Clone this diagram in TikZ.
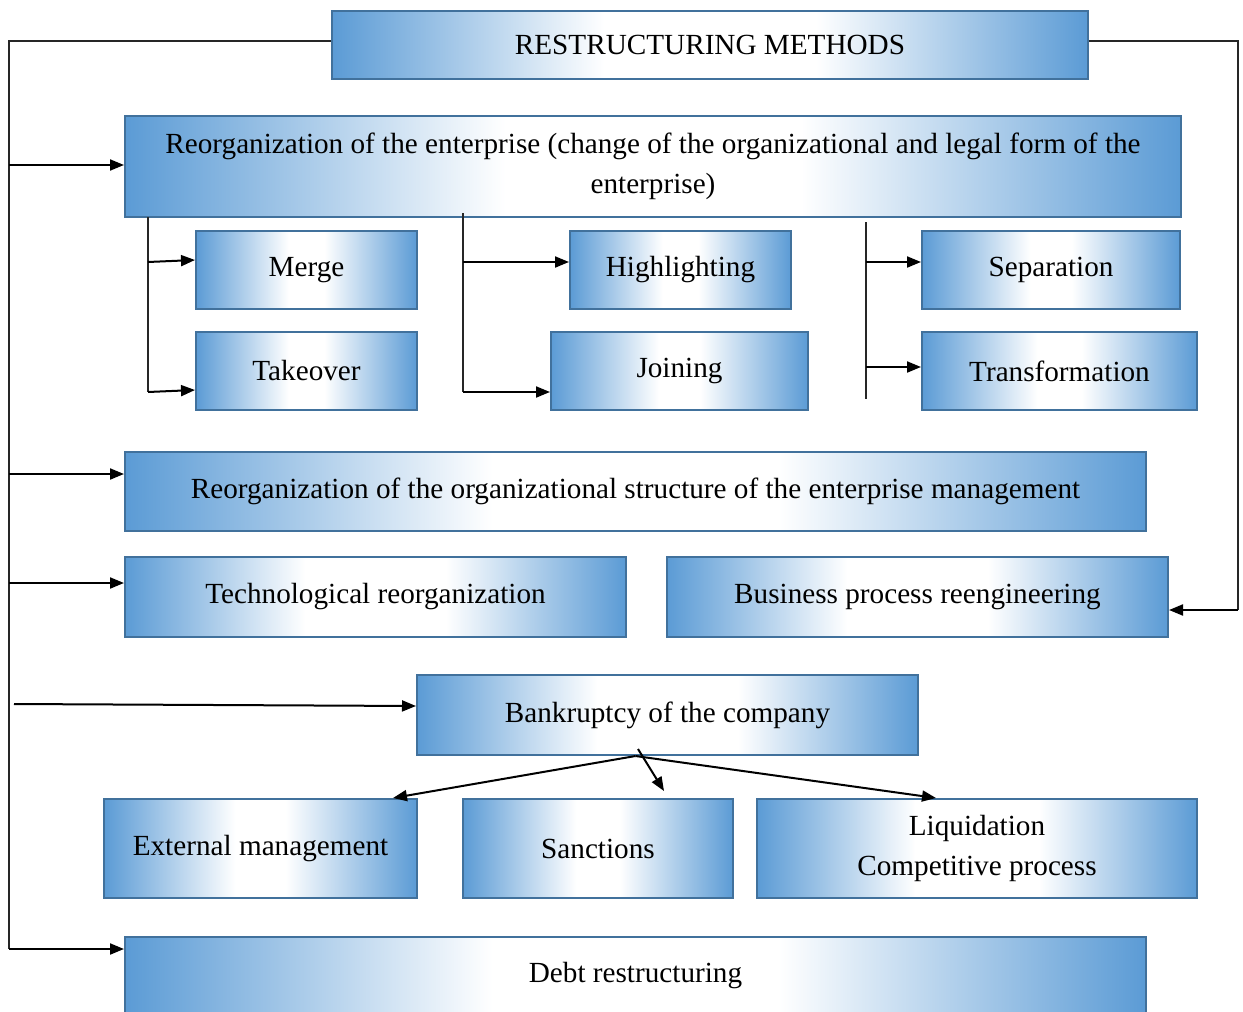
\documentclass[tikz,border=0pt]{standalone}
\usepackage{fontspec}
\setmainfont{Liberation Serif}
\usetikzlibrary{arrows.meta}
\definecolor{boxblue}{RGB}{91,155,213}
\definecolor{edgeblue}{RGB}{65,113,156}
\pgfdeclarehorizontalshading{wideshade}{100bp}{color(0bp)=(boxblue); color(25bp)=(boxblue); color(43bp)=(white); color(57bp)=(white); color(75bp)=(boxblue); color(100bp)=(boxblue)}
\pgfdeclarehorizontalshading{smallshade}{100bp}{color(0bp)=(boxblue); color(25bp)=(boxblue); color(46bp)=(white); color(54bp)=(white); color(75bp)=(boxblue); color(100bp)=(boxblue)}
\tikzset{
  boxbase/.style={rectangle, draw=edgeblue, line width=2pt, inner sep=0pt, align=center,
    font=\fontsize{29.2}{40}\selectfont, text=black},
  bigbox/.style={boxbase, shading=wideshade},
  smallbox/.style={boxbase, shading=smallshade},
  thinline/.style={line width=1.2pt, draw=black!85},
  arr/.style={line width=2pt, draw=black, -{Triangle[length=14pt,width=11pt]}},
}
\begin{document}
\begin{tikzpicture}[x=1pt,y=-1pt]
\useasboundingbox (0,0) rectangle (1243,1012);
\clip (0,0) rectangle (1243,1012);
\fill[white] (0,0) rectangle (1243,1012);

% boxes
\node[bigbox, minimum width=756pt, minimum height=68pt] (title) at (710,45) {RESTRUCTURING METHODS};
\node[bigbox, minimum width=1056pt, minimum height=101pt] (reorg) at (653,166.5)
  {Reorganization of the enterprise (change of the organizational and legal form of the\\enterprise)};
\node[smallbox, minimum width=221pt, minimum height=78pt] (merge) at (306.5,270) {Merge};
\node[smallbox, minimum width=221pt, minimum height=78pt] (takeover) at (306.5,371) {Takeover};
\node[smallbox, minimum width=221pt, minimum height=78pt] (highl) at (680.5,270) {Highlighting};
\node[smallbox, minimum width=257pt, minimum height=78pt] (joining) at (679.5,371) {Joining};
\node[smallbox, minimum width=258pt, minimum height=78pt] (separ) at (1051,270) {Separation};
\node[smallbox, minimum width=275pt, minimum height=78pt] (transf) at (1059.5,371) {Transformation};
\node[bigbox, minimum width=1021pt, minimum height=79pt] (struct) at (635.5,491.5)
  {Reorganization of the organizational structure of the enterprise management};
\node[bigbox, minimum width=501pt, minimum height=80pt] (tech) at (375.5,597) {Technological reorganization};
\node[bigbox, minimum width=501pt, minimum height=80pt] (bpr) at (917.5,597) {Business process reengineering};
\node[bigbox, minimum width=501pt, minimum height=80pt] (bankr) at (667.5,715) {Bankruptcy of the company};
\node[smallbox, minimum width=313pt, minimum height=99pt] (extm) at (260.5,848.5) {External management};
\node[smallbox, minimum width=270pt, minimum height=99pt] (sanc) at (598,848.5) {Sanctions};
\node[bigbox, minimum width=440pt, minimum height=99pt] (liq) at (977,848.5) {Liquidation\\Competitive process};
\node[bigbox, minimum width=1021pt, minimum height=78pt] (debt) at (635.5,976) {Debt restructuring};

% left frame line
\coordinate (L0) at (9,41);
\coordinate (L1) at (9,949);
\draw[thinline] (L0 -| title.west) -- (L0) -- (L1);
\coordinate (a1) at (9,165);
\coordinate (a2) at (9,474);
\coordinate (a3) at (9,583);
\coordinate (a4) at (14,704);
\draw[arr] (a1) -- (a1 -| reorg.west);
\draw[arr] (a2) -- (a2 -| struct.west);
\draw[arr] (a3) -- (a3 -| tech.west);
\draw[arr] (a4) -- ([yshift=9pt]bankr.west);
\draw[arr] (L1) -- (L1 -| debt.west);

% right frame line
\coordinate (R0) at (1238,41);
\coordinate (R1) at (1238,610);
\draw[thinline] (R0 -| title.east) -- (R0) -- (R1);
\draw[arr] (R1) -- (R1 -| bpr.east);

% branches under reorg
\coordinate (v1t) at (148,217);
\coordinate (v1b) at (148,392);
\coordinate (v1m) at (148,262);
\draw[thinline] (v1t) -- (v1b);
\draw[arr] (v1m) -- ([yshift=10pt]merge.west);
\draw[arr] (v1b) -- ([yshift=-19pt]takeover.west);

\coordinate (v2t) at (463,213);
\coordinate (v2b) at (463,392);
\coordinate (v2m) at (463,262);
\draw[thinline] (v2t) -- (v2b);
\draw[arr] (v2m) -- ([yshift=8pt]highl.west);
\draw[arr] (v2b) -- ([yshift=-21pt]joining.west);

\coordinate (v3t) at (866,222);
\coordinate (v3b) at (866,399);
\coordinate (v3m) at (866,262);
\coordinate (v3n) at (866,367);
\draw[thinline] (v3t) -- (v3b);
\draw[arr] (v3m) -- ([yshift=8pt]separ.west);
\draw[arr] (v3n) -- ([yshift=4pt]transf.west);

% bankruptcy branches
\coordinate (bk) at ([xshift=-32pt]bankr.south);
\coordinate (bk2) at (638,749);
\draw[arr] (bk) -- ([xshift=-25pt]extm.north east);
\draw[arr] (bk) -- ([xshift=-41pt]liq.north);
\draw[arr] (bk2) -- ([xshift=66pt,yshift=7pt]sanc.north);
\end{tikzpicture}
\end{document}
